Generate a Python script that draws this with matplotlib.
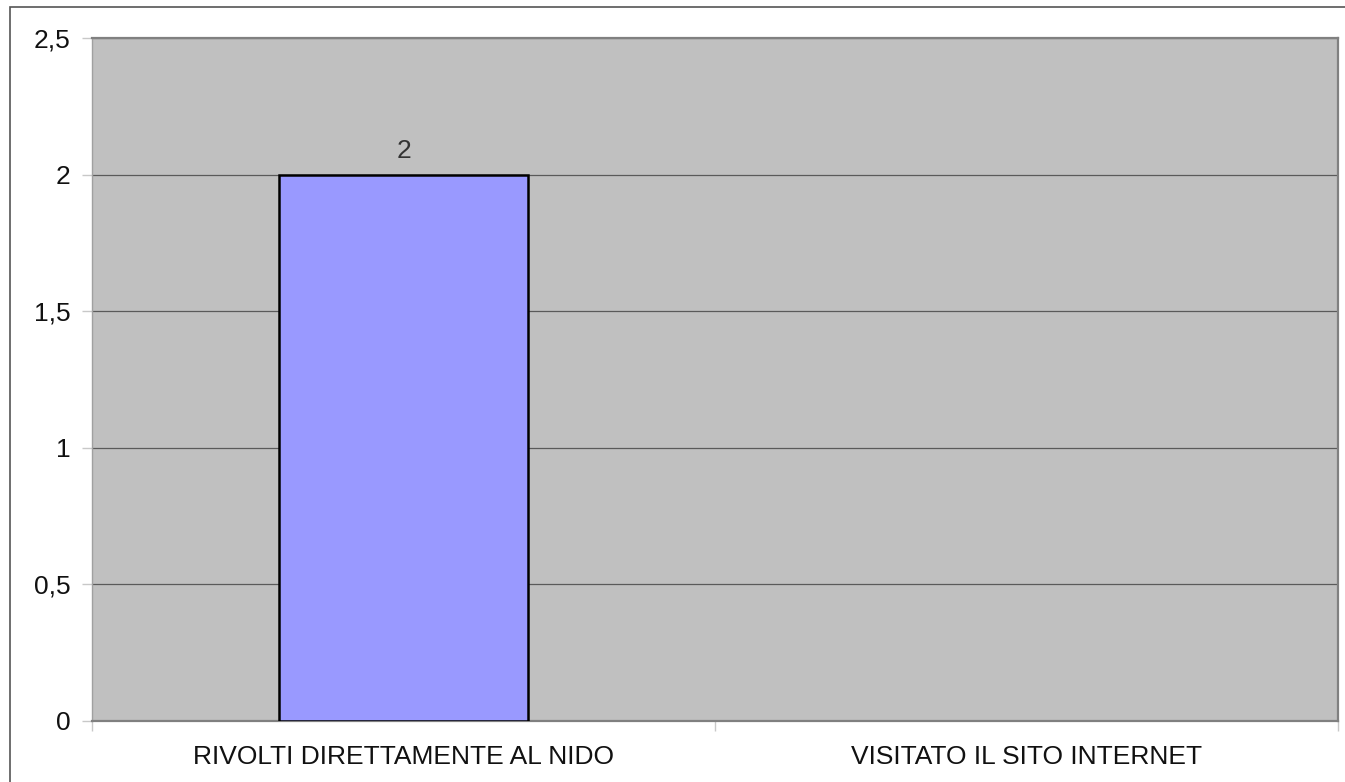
import matplotlib.pyplot as plt
from matplotlib.patches import Rectangle
from matplotlib.ticker import FixedLocator

categories = ["RIVOLTI DIRETTAMENTE AL NIDO", "VISITATO IL SITO INTERNET"]
values = [2, 0]
yticks = [0, 0.5, 1, 1.5, 2, 2.5]
ytick_labels = ["0", "0,5", "1", "1,5", "2", "2,5"]

plt.rcParams['font.family'] = ['Liberation Sans', 'DejaVu Sans']

fig = plt.figure(figsize=(13.45, 7.82), dpi=100)
ax = fig.add_axes([92 / 1345, 1 - 721 / 782, (1338 - 92) / 1345, (721 - 38) / 782])

# outer frame, only left and top visible in the reference
fig.patches.append(Rectangle((10 / 1345, -0.1), 1.2, 1 - 7 / 782 + 0.1,
                             transform=fig.transFigure, fill=False,
                             edgecolor='#555555', linewidth=1.2))

ax.set_facecolor('#c0c0c0')
x = list(range(len(categories)))
bars = ax.bar(x, values, width=0.4, color='#9999ff', edgecolor='black', linewidth=1.8, zorder=3)
for b, v in zip(bars, values):
    if v == 0:
        b.set_linewidth(0)
    else:
        ax.annotate(str(v), (b.get_x() + b.get_width() / 2, v), xytext=(0, 8),
                    textcoords='offset points', ha='center', va='bottom',
                    fontsize=19, color='#333333')

ax.set_xlim(-0.5, len(categories) - 0.5)
ax.set_ylim(0, 2.5)
ax.set_yticks(yticks)
ax.set_yticklabels(ytick_labels, fontsize=19, color='#111111')
ax.yaxis.grid(True, color='#5a5a5a', linewidth=0.9, zorder=1)
ax.set_axisbelow(True)

ax.set_xticks(x)
ax.set_xticklabels(categories, fontsize=19, color='#111111')
ax.tick_params(axis='x', which='major', length=0, pad=17)
ax.xaxis.set_minor_locator(FixedLocator([-0.5, 0.5, 1.5]))
ax.tick_params(axis='x', which='minor', length=7.5, color='#c8c8c8', width=1)
ax.tick_params(axis='y', length=7.5, color='#c8c8c8', width=1, pad=8)

for side in ['top', 'right', 'bottom']:
    ax.spines[side].set_color('#808080')
    ax.spines[side].set_linewidth(1.6)
ax.spines['left'].set_color('#a0a0a0')
ax.spines['left'].set_linewidth(1.0)

fig.savefig('out.png', dpi=100)
